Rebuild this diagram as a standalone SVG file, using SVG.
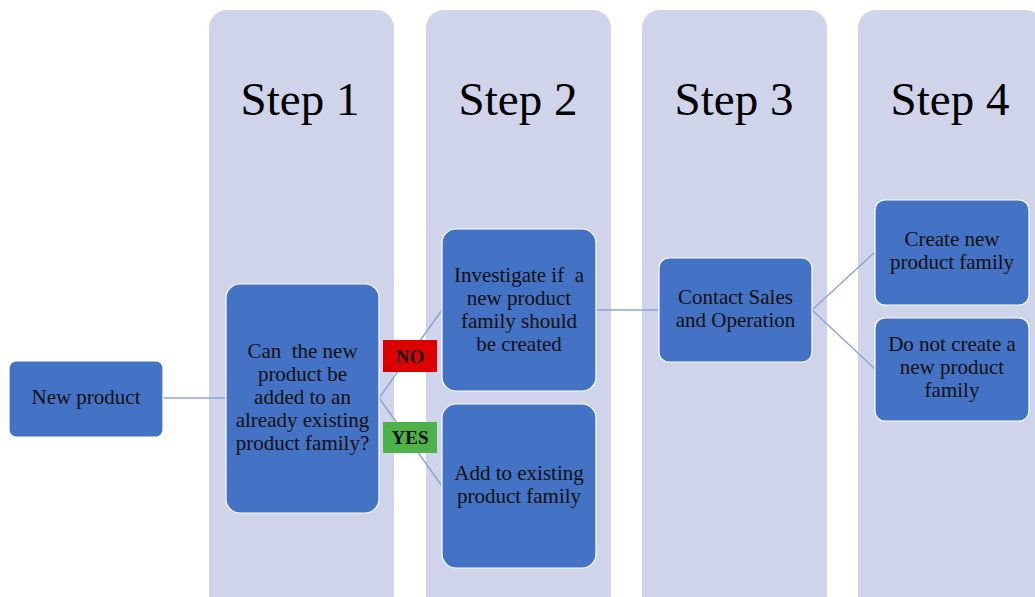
<svg xmlns="http://www.w3.org/2000/svg" width="1035" height="597" viewBox="0 0 1035 597">
  <style>
    .lane { fill: #CFD4EA; }
    .lane-title { font-family: "Liberation Serif", "DejaVu Serif", serif; font-size: 47px; fill: #000; text-anchor: middle; }
    .node { fill: #4472C4; stroke: #FFFFFF; stroke-width: 1.2; }
    .label { font-family: "Liberation Serif", "DejaVu Serif", serif; font-size: 21px; fill: #111; text-anchor: middle; }
    .edge { stroke: #8EA3D4; stroke-width: 1.4; fill: none; }
    .tag { font-family: "Liberation Serif", "DejaVu Serif", serif; font-size: 19px; font-weight: bold; fill: #111; text-anchor: middle; }
  </style>
  <rect width="1035" height="597" fill="#FFFFFF"/>

  <!-- step lanes -->
  <g id="lanes">
    <rect class="lane" x="209" y="10" width="185" height="610" rx="18"/>
    <rect class="lane" x="426" y="10" width="185" height="610" rx="18"/>
    <rect class="lane" x="642" y="10" width="185" height="610" rx="18"/>
    <rect class="lane" x="858" y="10" width="185" height="610" rx="18"/>
    <text class="lane-title" x="300" y="115">Step 1</text>
    <text class="lane-title" x="518" y="115">Step 2</text>
    <text class="lane-title" x="734" y="115">Step 3</text>
    <text class="lane-title" x="950" y="115">Step 4</text>
  </g>

  <!-- connectors -->
  <g id="connectors">
    <line class="edge" x1="163" y1="398" x2="226" y2="398"/>
    <line class="edge" x1="379" y1="398" x2="442" y2="310"/>
    <line class="edge" x1="379" y1="398" x2="442" y2="486"/>
    <line class="edge" x1="596" y1="310" x2="659" y2="310"/>
    <line class="edge" x1="812" y1="310" x2="875" y2="252"/>
    <line class="edge" x1="812" y1="310" x2="875" y2="369"/>
  </g>

  <g id="new-product">
    <rect class="node" x="9" y="361" width="154" height="76" rx="7"/>
    <text class="label" x="86" y="404">New product</text>
  </g>

  <g id="decision">
    <rect class="node" x="226" y="284" width="153" height="229" rx="14"/>
    <text class="label" x="302.5" y="358">Can&#160; the new</text>
    <text class="label" x="302.5" y="381">product be</text>
    <text class="label" x="302.5" y="404">added to an</text>
    <text class="label" x="302.5" y="427">already existing</text>
    <text class="label" x="302.5" y="450">product family?</text>
  </g>

  <g id="tag-no">
    <rect x="383" y="340" width="54" height="32" fill="#DD0000"/>
    <text class="tag" x="410" y="363">NO</text>
  </g>

  <g id="tag-yes">
    <rect x="383" y="422" width="54" height="31" fill="#4DB24A"/>
    <text class="tag" x="410" y="444">YES</text>
  </g>

  <g id="investigate">
    <rect class="node" x="442" y="229" width="154" height="162" rx="14"/>
    <text class="label" x="519" y="282">Investigate if&#160; a</text>
    <text class="label" x="519" y="305">new product</text>
    <text class="label" x="519" y="328">family should</text>
    <text class="label" x="519" y="351">be created</text>
  </g>

  <g id="add-existing">
    <rect class="node" x="442" y="404" width="154" height="164" rx="14"/>
    <text class="label" x="519" y="480">Add to existing</text>
    <text class="label" x="519" y="503">product family</text>
  </g>

  <g id="contact">
    <rect class="node" x="659" y="258" width="153" height="104" rx="10"/>
    <text class="label" x="735.5" y="304">Contact Sales</text>
    <text class="label" x="735.5" y="327">and Operation</text>
  </g>

  <g id="create-new">
    <rect class="node" x="875" y="200" width="154" height="105" rx="10"/>
    <text class="label" x="952" y="246">Create new</text>
    <text class="label" x="952" y="269">product family</text>
  </g>

  <g id="do-not-create">
    <rect class="node" x="875" y="318" width="154" height="103" rx="10"/>
    <text class="label" x="952" y="351">Do not create a</text>
    <text class="label" x="952" y="374">new product</text>
    <text class="label" x="952" y="397">family</text>
  </g>
</svg>
